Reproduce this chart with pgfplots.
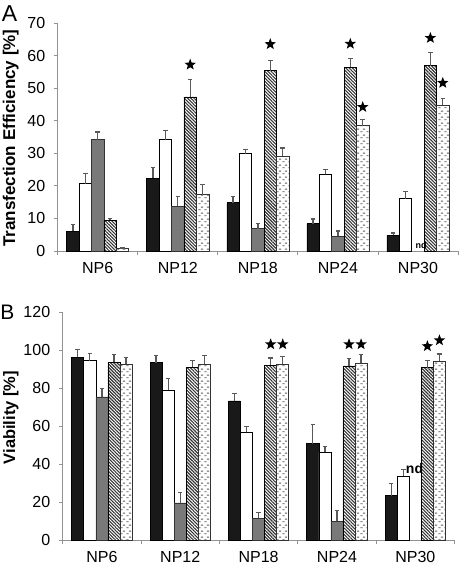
\documentclass[border=0pt]{standalone}
\usepackage{fontspec}
\setmainfont{Liberation Sans}
\usepackage{pgfplots}
\pgfplotsset{compat=1.18}
\usetikzlibrary{patterns,patterns.meta,arrows.meta}

\pgfdeclarepatternformonly{hdashes}{\pgfqpoint{0pt}{0pt}}{\pgfqpoint{6pt}{6pt}}{\pgfqpoint{6pt}{6pt}}{%
  \pgfsetlinewidth{0.9pt}%
  \pgfpathmoveto{\pgfqpoint{0.3pt}{1.5pt}}\pgfpathlineto{\pgfqpoint{3.0pt}{1.5pt}}%
  \pgfpathmoveto{\pgfqpoint{3.3pt}{4.5pt}}\pgfpathlineto{\pgfqpoint{6.0pt}{4.5pt}}%
  \pgfusepath{stroke}}

\pgfdeclareplotmark{fstar}{%
  \pgfpathmoveto{\pgfpointpolar{90}{\pgfplotmarksize}}%
  \pgfpathlineto{\pgfpointpolar{126}{0.42\pgfplotmarksize}}%
  \pgfpathlineto{\pgfpointpolar{162}{\pgfplotmarksize}}%
  \pgfpathlineto{\pgfpointpolar{198}{0.42\pgfplotmarksize}}%
  \pgfpathlineto{\pgfpointpolar{234}{\pgfplotmarksize}}%
  \pgfpathlineto{\pgfpointpolar{270}{0.42\pgfplotmarksize}}%
  \pgfpathlineto{\pgfpointpolar{306}{\pgfplotmarksize}}%
  \pgfpathlineto{\pgfpointpolar{342}{0.42\pgfplotmarksize}}%
  \pgfpathlineto{\pgfpointpolar{18}{\pgfplotmarksize}}%
  \pgfpathlineto{\pgfpointpolar{54}{0.42\pgfplotmarksize}}%
  \pgfpathclose
  \pgfusepathqfill}

\pgfplotsset{
  chart/.style={
    scale only axis, anchor=south west,
    xmin=-0.5, xmax=4.5, ymin=0,
    axis x line*=bottom, axis y line*=left,
    axis line style={draw=gray!85, line width=0.8pt},
    tick align=outside, major tick length=4pt,
    tick style={draw=gray!85, line width=0.8pt},
    xtick={-0.5,0.5,1.5,2.5,3.5,4.5},
    x tick label as interval,
    xticklabels={NP6,NP12,NP18,NP24,NP30},
    ticklabel style={font=\fontsize{16}{16}\selectfont},
    xticklabel style={yshift=-4pt},
    yticklabel style={xshift=-5pt},
    /pgf/number format/assume math mode=true,
    clip=false,
  },
  ebar/.style={
    error bars/y dir=plus, error bars/y explicit,
    error bars/error mark=none,
    error bars/error bar style={draw=gray!70!black, line width=1.3pt,
      -{Bar[width=4.5pt,line width=1.1pt]}},
  },
  s1/.style={ybar, bar width=#1, bar shift=0, fill=black!90, draw=black, line width=0.6pt, ebar},
  s2/.style={ybar, bar width=#1, bar shift=0, fill=white, draw=black, line width=0.6pt, ebar},
  s3/.style={ybar, bar width=#1, bar shift=0, fill=gray!95!black, draw=black!80, line width=0.6pt, ebar},
  s4/.style={ybar, bar width=#1, bar shift=0, draw=black, line width=0.6pt,
    pattern={Lines[angle=-45,distance=2.3pt,line width=1.1pt]}, pattern color=black!80, ebar},
  s5/.style={ybar, bar width=#1, bar shift=0, draw=black!80, line width=0.6pt,
    pattern=hdashes, pattern color=black!65, ebar},
  stars/.style={only marks, mark=fstar, mark size=6pt, black},
}

\begin{document}
\begin{tikzpicture}
\useasboundingbox (0pt,0pt) rectangle (459pt,-571pt);

\node[font=\fontsize{23}{23}\selectfont, anchor=center] at (9.5pt,-13.5pt) {A};
\node[font=\fontsize{21}{21}\selectfont, anchor=center] at (7.5pt,-312.5pt) {B};

% Panel A  (bars at category +/- 0.155 offsets)
\begin{axis}[chart,
  at={(57.7pt,-251pt)}, width=400.3pt, height=228pt,
  ymax=70, ytick={0,10,...,70},
  ylabel={Transfection Efficiency [\%]},
  every axis y label/.style={at={(axis description cs:-0.1174,0.495)}, rotate=90, anchor=center,
    font=\fontsize{17}{17}\selectfont\bfseries},
]
\addplot[s1=0.155] coordinates {(-0.31,6.0)+-(0,2.3) (0.69,22.4)+-(0,3.5) (1.69,14.8)+-(0,2.2) (2.69,8.4)+-(0,1.6) (3.69,4.9)+-(0,0.8)};
\addplot[s2=0.155] coordinates {(-0.155,20.7)+-(0,3.4) (0.845,34.2)+-(0,3.1) (1.845,29.9)+-(0,1.5) (2.845,23.5)+-(0,1.8) (3.845,16.1)+-(0,2.4)};
\addplot[s3=0.155] coordinates {(0,34.2)+-(0,2.5) (1,13.8)+-(0,3.2) (2,6.9)+-(0,1.7) (3,4.6)+-(0,1.7)};
\addplot[s4=0.155] coordinates {(0.155,9.4)+-(0,0.8) (1.155,47.3)+-(0,5.6) (2.155,55.4)+-(0,3.3) (3.155,56.4)+-(0,2.9) (4.155,56.9)+-(0,4.3)};
\addplot[s5=0.155] coordinates {(0.31,0.8)+-(0,0.3) (1.31,17.3)+-(0,3.3) (2.31,29.1)+-(0,2.7) (3.31,38.5)+-(0,2.1) (4.31,44.8)+-(0,2.3)};
\addplot[stars] coordinates {(1.155,57.2) (2.155,63.5) (3.155,63.6) (3.31,44.2) (4.155,65.4) (4.31,51.6)};
\node[font=\fontsize{9}{9}\selectfont\bfseries, anchor=center] at (axis cs:4.04,1.9) {nd};
\end{axis}

% Panel B  (bars at category +/- 0.154 offsets)
\begin{axis}[chart,
  at={(62.7pt,-540pt)}, width=391.8pt, height=228pt,
  ymax=120, ytick={0,20,...,120},
  ylabel={Viability [\%]},
  every axis y label/.style={at={(axis description cs:-0.132,0.537)}, rotate=90, anchor=center,
    font=\fontsize{16.5}{16.5}\selectfont\bfseries},
]
\addplot[s1=0.154] coordinates {(-0.308,96.3)+-(0,4.4) (0.692,93.3)+-(0,4.2) (1.692,73.2)+-(0,4.3) (2.692,50.7)+-(0,10.2) (3.692,23.3)+-(0,6.7)};
\addplot[s2=0.154] coordinates {(-0.154,94.4)+-(0,4.2) (0.846,78.9)+-(0,6.5) (1.846,56.7)+-(0,3.1) (2.846,46.1)+-(0,3.5) (3.846,33.5)+-(0,3.9)};
\addplot[s3=0.154] coordinates {(0,75.3)+-(0,4.9) (1,19.5)+-(0,5.6) (2,11.4)+-(0,3.2) (3,9.8)+-(0,5.8)};
\addplot[s4=0.154] coordinates {(0.154,93.5)+-(0,4.2) (1.154,90.9)+-(0,4.0) (2.154,91.9)+-(0,4.2) (3.154,91.6)+-(0,4.0) (4.154,90.7)+-(0,4.0)};
\addplot[s5=0.154] coordinates {(0.308,92.5)+-(0,4.0) (1.308,92.5)+-(0,4.7) (2.308,92.5)+-(0,4.2) (3.308,93.0)+-(0,4.7) (4.308,94.0)+-(0,4.2)};
\addplot[stars] coordinates {(2.154,103) (2.308,103) (3.154,103) (3.308,103) (4.154,102) (4.308,105.1)};
\node[font=\fontsize{14}{14}\selectfont\bfseries, anchor=center] at (axis cs:3.99,37.4) {nd};
\end{axis}
\end{tikzpicture}
\end{document}
